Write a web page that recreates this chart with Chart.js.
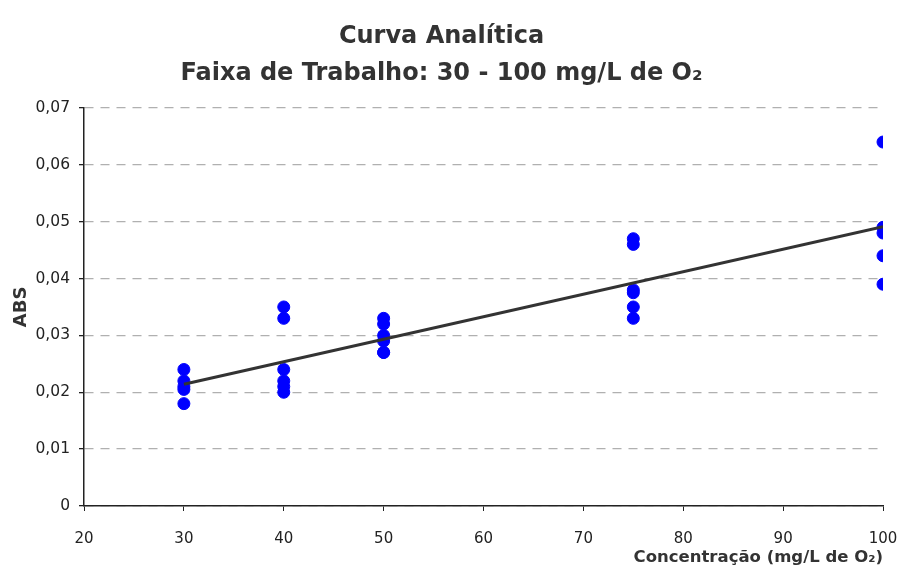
<!DOCTYPE html>
<html>
<head>
<meta charset="utf-8">
<script src="https://cdn.jsdelivr.net/npm/chart.js@4"></script>
<style>
  html, body { margin: 0; padding: 0; background: #fff; }
  #wrap { width: 899px; height: 569px; }
</style>
</head>
<body>
<div id="wrap"><canvas id="chart" width="899" height="569"></canvas></div>
<script>
// Data
const conc30 = [0.024, 0.022, 0.021, 0.0205, 0.018];
const conc40 = [0.035, 0.033, 0.024, 0.022, 0.021, 0.020];
const conc50 = [0.033, 0.032, 0.030, 0.029, 0.027, 0.027];
const conc75 = [0.047, 0.046, 0.038, 0.0375, 0.035, 0.033];
const conc100 = [0.064, 0.049, 0.048, 0.044, 0.039];
const levels = [30, 40, 50, 75, 100];
const trendX = [30, 100];
const trendY = [0.0214, 0.0491];
const xTicks = [20, 30, 40, 50, 60, 70, 80, 90, 100];
const yTicks = [0, 0.01, 0.02, 0.03, 0.04, 0.05, 0.06, 0.07];

const titleFont = '"Comic Sans MS", "DejaVu Sans", sans-serif';
const tickFont = '"DejaVu Sans", Verdana, sans-serif';

// points as {x, y}
const groups = [conc30, conc40, conc50, conc75, conc100];
const points = [];
groups.forEach((vals, i) => {
    vals.forEach(v => points.push({ x: levels[i], y: v }));
});
const trend = trendX.map((x, i) => ({ x: x, y: trendY[i] }));

const ctx = document.getElementById('chart');
new Chart(ctx, {
    type: 'scatter',
    data: {
        datasets: [
            {
                label: 'ABS',
                data: points,
                backgroundColor: '#0000ff',
                borderColor: '#0000ff',
                pointRadius: 6,
                pointHoverRadius: 6,
                order: 2
            },
            {
                label: 'Linear',
                type: 'line',
                data: trend,
                borderColor: '#333333',
                borderWidth: 3,
                pointRadius: 0,
                fill: false,
                order: 1
            }
        ]
    },
    options: {
        responsive: false,
        animation: false,
        layout: { padding: { left: 0, right: 16, top: 4, bottom: 0 } },
        plugins: {
            legend: { display: false },
            tooltip: { enabled: false },
            title: {
                display: true,
                text: ['Curva Analítica', 'Faixa de Trabalho: 30 - 100 mg/L de O₂'],
                color: '#333',
                font: { family: titleFont, size: 24, weight: 'bold', lineHeight: 1.54 },
                padding: { top: 14, bottom: 16 }
            }
        },
        scales: {
            x: {
                type: 'linear',
                min: 20,
                max: 100,
                afterBuildTicks: axis => { axis.ticks = xTicks.map(v => ({ value: v })); },
                afterFit: axis => {
                    axis.paddingRight = 0;
                    axis.height = 63;
                },
                ticks: {
                    color: '#222',
                    font: { family: tickFont, size: 15 },
                    padding: 19,
                    maxRotation: 0
                },
                grid: {
                    drawOnChartArea: false,
                    drawTicks: true,
                    tickLength: 5,
                    tickColor: '#222'
                },
                border: { color: '#222', width: 1.5 },
                title: {
                    display: true,
                    text: 'Concentração (mg/L de O₂)',
                    align: 'end',
                    color: '#333',
                    font: { family: titleFont, size: 16.5, weight: 'bold' },
                    padding: { top: 0, bottom: 1 }
                }
            },
            y: {
                min: 0,
                max: 0.07,
                afterBuildTicks: axis => { axis.ticks = yTicks.map(v => ({ value: v })); },
                afterFit: axis => { axis.width = 84; },
                ticks: {
                    color: '#222',
                    font: { family: tickFont, size: 15.5 },
                    padding: 9,
                    callback: v => v === 0 ? '0' : v.toFixed(2).replace('.', ',')
                },
                grid: {
                    color: '#b0b0b0',
                    drawTicks: true,
                    tickLength: 5,
                    tickColor: '#222',
                    tickBorderDash: [],
                    lineWidth: 1.3
                },
                border: { color: '#222', width: 1.5, dash: [9, 7] },
                title: {
                    display: true,
                    text: 'ABS',
                    color: '#333',
                    font: { family: titleFont, size: 18, weight: 'bold' },
                    padding: { top: 11, bottom: 0 }
                }
            }
        }
    }
});
</script>
</body>
</html>
